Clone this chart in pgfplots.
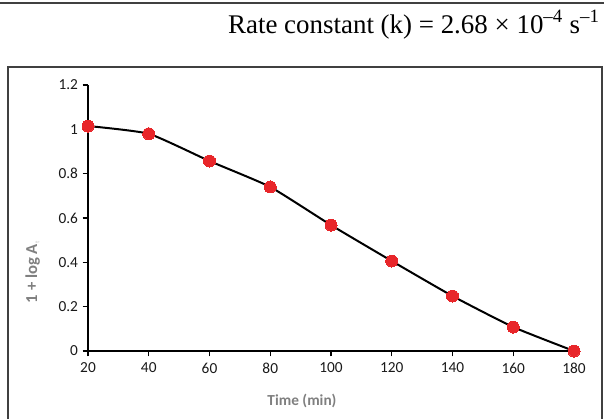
\documentclass[border=0pt]{standalone}
\usepackage{pgfplots}
\pgfplotsset{compat=1.18}
\usepackage{fontspec}
\setmainfont{Carlito}
\newfontfamily\serifrm{Liberation Serif}
\definecolor{ptred}{HTML}{E8262A}
\definecolor{labgray}{HTML}{7F7F7F}
\definecolor{framegray}{HTML}{404040}
\begin{document}
\begin{tikzpicture}[x=0.75pt,y=0.75pt]
\useasboundingbox (0,0) rectangle (604,419);
% top rule
\draw[framegray,line width=1.1pt] (0,416) -- (604,416);
% title
\node[anchor=base east,inner sep=0pt,font=\serifrm\fontsize{20.2}{23}\selectfont] at (600,386) {Rate constant (k) = 2.68 × 10\textsuperscript{\textendash4} s\textsuperscript{\textendash1}};
% frame
\draw[framegray,line width=1.1pt] (8,0) -- (8,352) -- (602,352) -- (602,0);
\begin{axis}[
  at={(66pt,51pt)}, anchor=origin,
  scale only axis, width=364.5pt, height=199.5pt,
  xmin=20, xmax=180, ymin=0, ymax=1.2,
  axis lines=left,
  axis line style={-, line width=0.8pt, black},
  xtick={20,40,...,180},
  ytick={0,0.2,...,1.2},
  tick align=outside,
  major tick length=4pt,
  tick style={line width=0.8pt, black},
  ticklabel style={font=\fontsize{11.5}{13}\selectfont, text=black!90},
  xticklabel style={yshift=-1.5pt},
  /pgf/number format/assume math mode=true,
  yticklabel style={/pgf/number format/.cd, fixed, precision=1},
  xtick pos=bottom, ytick pos=left,
  clip=false,
]
\addplot[black, line width=1.5pt, smooth, tension=0.3, mark=*, mark size=4.5pt,
  mark options={fill=ptred, draw=ptred, line width=0pt}]
  coordinates {(20,1.015) (40,0.98) (60,0.857) (80,0.74) (100,0.568) (120,0.406) (140,0.248) (160,0.108) (180,0.0)};
\end{axis}
% axis labels
\node[anchor=base,inner sep=0pt,text=labgray,font=\bfseries\fontsize{11.5}{13}\selectfont] at (302,14) {Time (min)};
\node[anchor=base,inner sep=0pt,rotate=90,text=labgray,font=\bfseries\fontsize{12.5}{14}\selectfont] at (37,147) {1 + log A\textsubscript{\textcolor{labgray!30}{\tiny t}}};
\end{tikzpicture}
\end{document}
